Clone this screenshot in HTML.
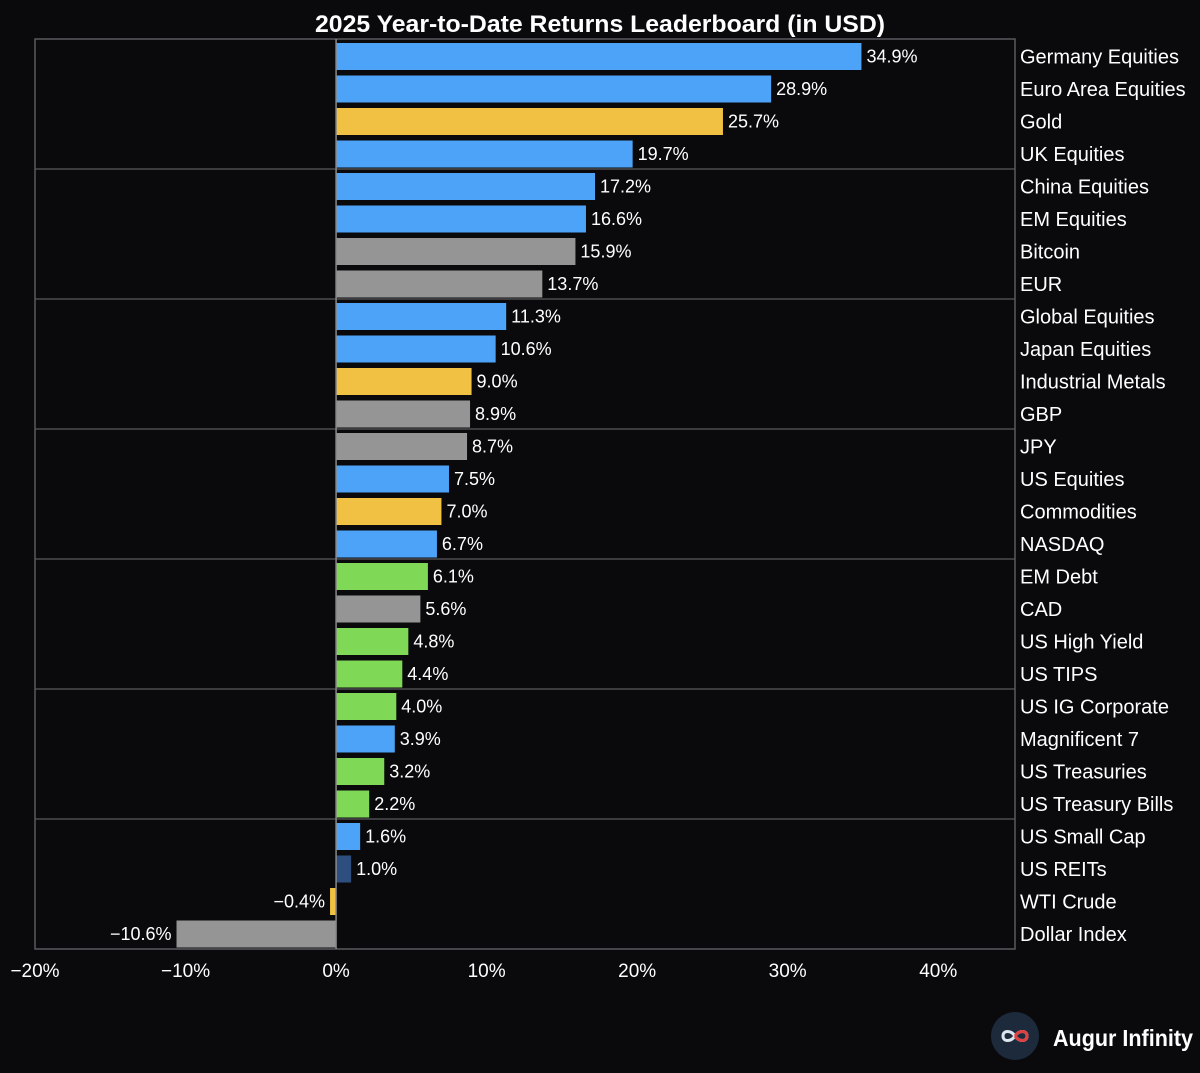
<!DOCTYPE html>
<html><head><meta charset="utf-8"><style>
body{margin:0;background:#0a0a0c;}
svg{display:block;font-family:"Liberation Sans",sans-serif;}
</style></head><body>
<svg id="chart" width="1200" height="1073" viewBox="0 0 1200 1073">
<rect width="1200" height="1073" fill="#0a0a0c"/>
<text x="315" y="32" textLength="570" lengthAdjust="spacingAndGlyphs" fill="#fff" font-size="24" font-weight="600">2025 Year-to-Date Returns Leaderboard (in USD)</text>
<g id="plot"></g>
<g>
<circle cx="1015" cy="1036" r="24" fill="#1c2a3c"/>
<path d="M1003 1036 c0-6 8-6 12 0 c4 6 12 6 12 0 c0-6-8-6-12 0 c-4 6-12 6-12 0z" fill="none" stroke="#dde6f0" stroke-width="3"/>
<path d="M1015 1036 c4 6 12 6 12 0 c0-6-8-6-12 0" fill="none" stroke="#e04040" stroke-width="3"/>
<text x="1053" y="1046" textLength="140" lengthAdjust="spacingAndGlyphs" fill="#fff" font-size="23" font-weight="bold">Augur Infinity</text>
</g>
</svg>
<script>
const categories=["Germany Equities","Euro Area Equities","Gold","UK Equities","China Equities","EM Equities","Bitcoin","EUR","Global Equities","Japan Equities","Industrial Metals","GBP","JPY","US Equities","Commodities","NASDAQ","EM Debt","CAD","US High Yield","US TIPS","US IG Corporate","Magnificent 7","US Treasuries","US Treasury Bills","US Small Cap","US REITs","WTI Crude","Dollar Index"];
const values=[34.9,28.9,25.7,19.7,17.2,16.6,15.9,13.7,11.3,10.6,9.0,8.9,8.7,7.5,7.0,6.7,6.1,5.6,4.8,4.4,4.0,3.9,3.2,2.2,1.6,1.0,-0.4,-10.6];
const groups=["b","b","g","b","b","b","x","x","b","b","g","x","x","b","g","b","e","x","e","e","e","b","e","e","b","d","g","x"];
const ticks=[-20,-10,0,10,20,30,40];
const colors={b:"#4ca3f8",g:"#f0c142",x:"#959595",e:"#7fd856",d:"#2d4e7e"};
const NS="http://www.w3.org/2000/svg";
const L=35,R=1015,T=39,B=949,xmin=-20,xmax=45.1;
const xs=v=>L+(v-xmin)/(xmax-xmin)*(R-L);
const step=(B-T)/categories.length;
const ys=i=>T+step*i;
const g=document.getElementById('plot');
function mk(t,a){const e=document.createElementNS(NS,t);for(const k in a)e.setAttribute(k,a[k]);g.appendChild(e);return e;}
let e=mk('rect',{x:L,y:T,width:R-L,height:B-T,fill:'none',stroke:'#5a5a5e',"stroke-width":1.5});


for(let k=4;k<categories.length;k+=4){
 e=mk('line',{x1:L,x2:R,y1:ys(k),y2:ys(k),stroke:'#5a5a5e',"stroke-width":1.2});
 
 
}
categories.forEach((c,i)=>{
 const v=values[i],x0=xs(0),x1=xs(v);
 const r=mk('rect',{x:Math.min(x0,x1),y:ys(i)+4,width:Math.abs(x1-x0),height:step-5.5,fill:colors[groups[i]]});
 
 
 const cy=ys(i)+step/2+7;
 const lbl=(v<0?'\u2212'+Math.abs(v).toFixed(1):v.toFixed(1))+'%';
 const t=mk('text',{x:v>=0?x1+5:x1-5,y:cy,fill:'#fff',"font-size":18,"text-anchor":v>=0?'start':'end'});
 t.textContent=lbl;
 
 
 const ct=mk('text',{x:1020,y:cy+1,fill:'#fff',"font-size":20});
 ct.textContent=c;
 
 
});
e=mk('line',{x1:xs(0),x2:xs(0),y1:T,y2:B,stroke:'#888',"stroke-width":1.5});


ticks.forEach(v=>{
 const t=mk('text',{x:xs(v),y:977,fill:'#fff',"font-size":19,"text-anchor":'middle'});
 t.textContent=(v<0?'\u2212'+Math.abs(v):v)+'%';
 
 
});
</script>
</body></html>
